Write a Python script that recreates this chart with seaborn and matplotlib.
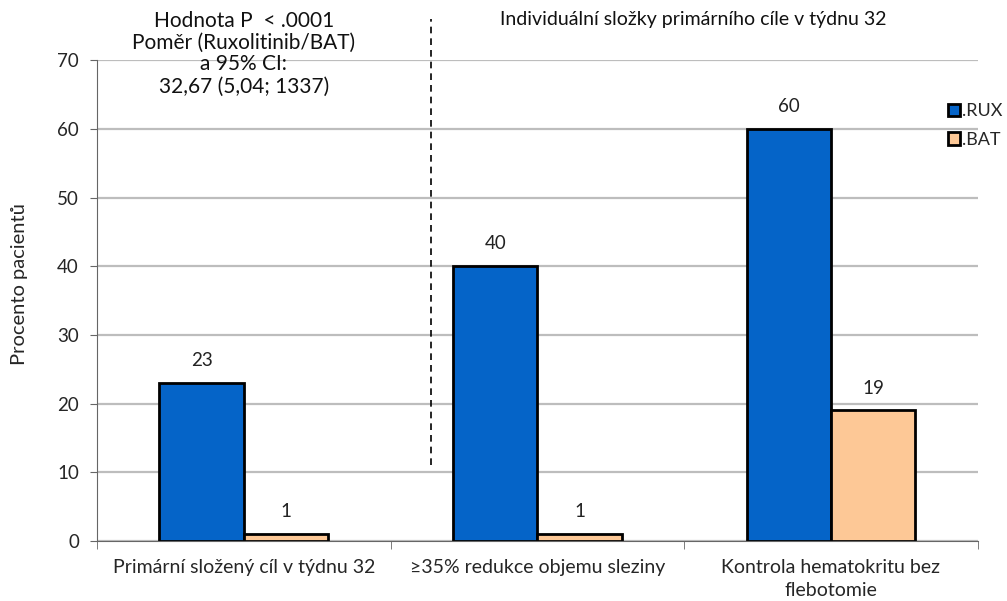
import numpy as np
import pandas as pd
import matplotlib.pyplot as plt
import seaborn as sns

categories = ["Primární složený cíl v týdnu 32",
              "≥35% redukce objemu sleziny",
              "Kontrola hematokritu bez\nflebotomie"]
groups = [".RUX", ".BAT"]
rux = [23, 40, 60]
bat = [1, 1, 19]
colors = ["#0564C8", "#FDC896"]

df = pd.DataFrame({
    "cat": categories * 2,
    "grp": [groups[0]] * 3 + [groups[1]] * 3,
    "val": rux + bat,
})

sns.set_style("white")
plt.rcParams["font.family"] = ["Lato", "DejaVu Sans"]

fig = plt.figure(figsize=(10.07, 6.01), dpi=100)
ax = fig.add_axes([0.0963, 0.0998, 0.8747, 0.8002])

sns.barplot(data=df, x="cat", y="val", hue="grp", palette=colors,
            width=0.575, gap=0, edgecolor="black", linewidth=2,
            saturation=1, ax=ax, legend=True)

for c in ax.containers:
    ax.bar_label(c, padding=10, fontsize=13.5, color="#222222")

ax.set_ylim(0, 70)
ax.set_xlim(-0.5, 2.5)
ax.set_yticks(range(0, 71, 10))
ax.yaxis.grid(True, color="#BDBDBD", linewidth=1.6)
ax.set_axisbelow(True)
ax.set_xlabel("")
ax.set_ylabel("Procento pacientů", fontsize=14.5)
ax.yaxis.set_label_coords(-0.078, 0.535)
ax.tick_params(axis="y", labelsize=13.5, length=5, color="#666666", direction="out",
               left=True, pad=8)
ax.tick_params(axis="x", labelsize=14, length=0, pad=13)
for lab in ax.get_xticklabels():
    lab.set_linespacing(1.45)
ax.set_xticks([-0.5, 0.5, 1.5, 2.5], minor=True)
ax.tick_params(axis="x", which="minor", length=6, color="#666666", bottom=True)
for s in ["top", "right"]:
    ax.spines[s].set_visible(False)
ax.spines["left"].set_color("#666666")
ax.spines["bottom"].set_color("#666666")

# divider between primary endpoint and components
ax.plot([0.636, 0.636], [11, 76], color="black", linestyle=(0, (4, 3)),
        linewidth=1.2, clip_on=False)

ax.text(0.0, 77.2, "Hodnota P  < .0001\nPoměr (Ruxolitinib/BAT)\na 95% CI:\n32,67 (5,04; 1337)",
        ha="center", va="top", fontsize=15, linespacing=1.12, color="#111111")
ax.text(1.53, 77.2, "Individuální složky primárního cíle v týdnu 32",
        ha="center", va="top", fontsize=14, color="#111111")

leg = ax.legend(loc="upper left", bbox_to_anchor=(0.941, 0.828), bbox_transform=fig.transFigure,
                frameon=False, fontsize=13, handlelength=0.7, handleheight=0.7,
                handletextpad=0.12, labelspacing=0.7, borderaxespad=0, borderpad=0)
for h in leg.legend_handles:
    h.set_edgecolor("black")
    h.set_linewidth(2)

fig.savefig("out.png", dpi=100)
